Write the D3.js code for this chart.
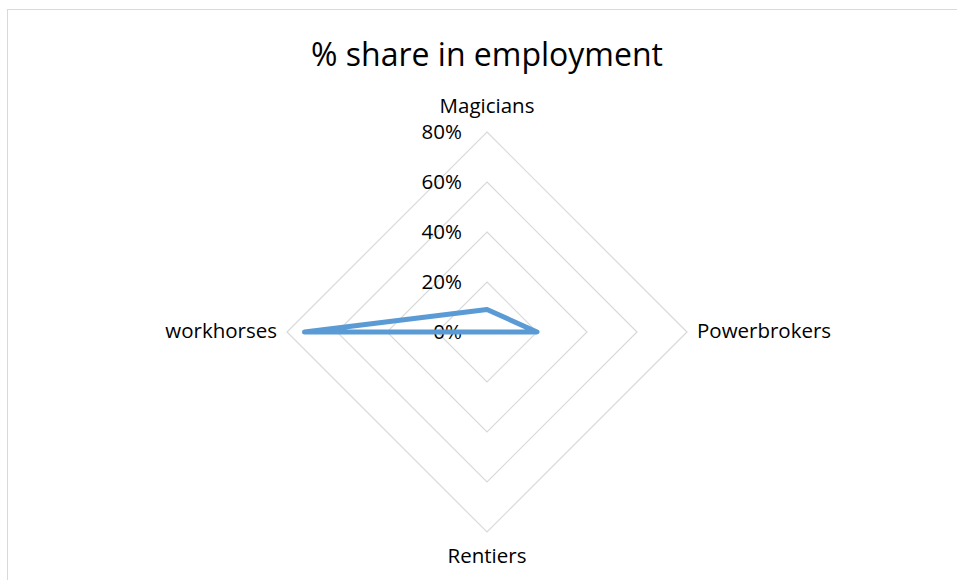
<!DOCTYPE html>
<html>
<head>
<meta charset="utf-8">
<script src="https://cdn.jsdelivr.net/npm/d3@7"></script>
<style>
  html, body { margin: 0; padding: 0; background: #fff; }
  svg { display: block; }
  text { font-family: "Open Sans", "Noto Sans", sans-serif; fill: #000; }
</style>
</head>
<body>
<svg id="chart" width="957" height="580"></svg>
<script>
const title = "% share in employment";
const categories = ["Magicians", "Powerbrokers", "Rentiers", "workhorses"];
const values = [0.09, 0.20, 0.0, 0.73];
const ticks = [0, 0.2, 0.4, 0.6, 0.8];
const tickLabels = ["0%", "20%", "40%", "60%", "80%"];

const W = 957, H = 580;
const cx = 487, cy = 332;
const svg = d3.select("#chart");

// chart area border
svg.append("rect")
  .attr("x", 7.5).attr("y", 9.5)
  .attr("width", 1000).attr("height", 1000)
  .attr("fill", "#fff")
  .attr("stroke", "#d9d9d9").attr("stroke-width", 1);

const r = d3.scaleLinear().domain([0, 0.8]).range([0, 200]);
const angle = d3.scalePoint().domain(categories).range([0, 2 * Math.PI * (categories.length - 1) / categories.length]);

const g = svg.append("g").attr("transform", `translate(${cx},${cy})`);

const pt = (cat, v) => {
  const a = angle(cat);
  return [Math.sin(a) * r(v), -Math.cos(a) * r(v)];
};

// grid rings
ticks.filter(t => t > 0).forEach(t => {
  g.append("path")
    .attr("d", d3.line()(categories.map(c => pt(c, t))) + "Z")
    .attr("fill", "none")
    .attr("stroke", "#d9d9d9")
    .attr("stroke-width", 1.2);
});

// tick labels
g.selectAll("text.tick")
  .data(ticks)
  .enter().append("text")
  .attr("class", "tick")
  .attr("x", -25)
  .attr("y", d => -r(d))
  .attr("dy", "0.36em")
  .attr("text-anchor", "end")
  .style("font-size", "20.5px")
  .text((d, i) => tickLabels[i]);

// data line
g.append("path")
  .attr("d", d3.line()(categories.map((c, i) => pt(c, values[i]))) + "Z")
  .attr("fill", "none")
  .attr("stroke", "#5b9bd5")
  .attr("stroke-width", 5)
  .attr("stroke-linejoin", "round")
  .attr("stroke-linecap", "round");

// category labels
const outer = r(0.8);
const labelPos = {
  "Magicians": { x: 0, y: -outer - 19, anchor: "middle" },
  "Powerbrokers": { x: outer + 10, y: 6, anchor: "start" },
  "Rentiers": { x: 0, y: outer + 31, anchor: "middle" },
  "workhorses": { x: -outer - 10, y: 6, anchor: "end" }
};
categories.forEach(c => {
  const p = labelPos[c];
  g.append("text")
    .attr("x", p.x).attr("y", p.y)
    .attr("text-anchor", p.anchor)
    .style("font-size", "20.5px")
    .text(c);
});

// title
svg.append("text")
  .attr("x", cx).attr("y", 66)
  .attr("text-anchor", "middle")
  .style("font-size", "32px")
  .text(title);
</script>
</body>
</html>
